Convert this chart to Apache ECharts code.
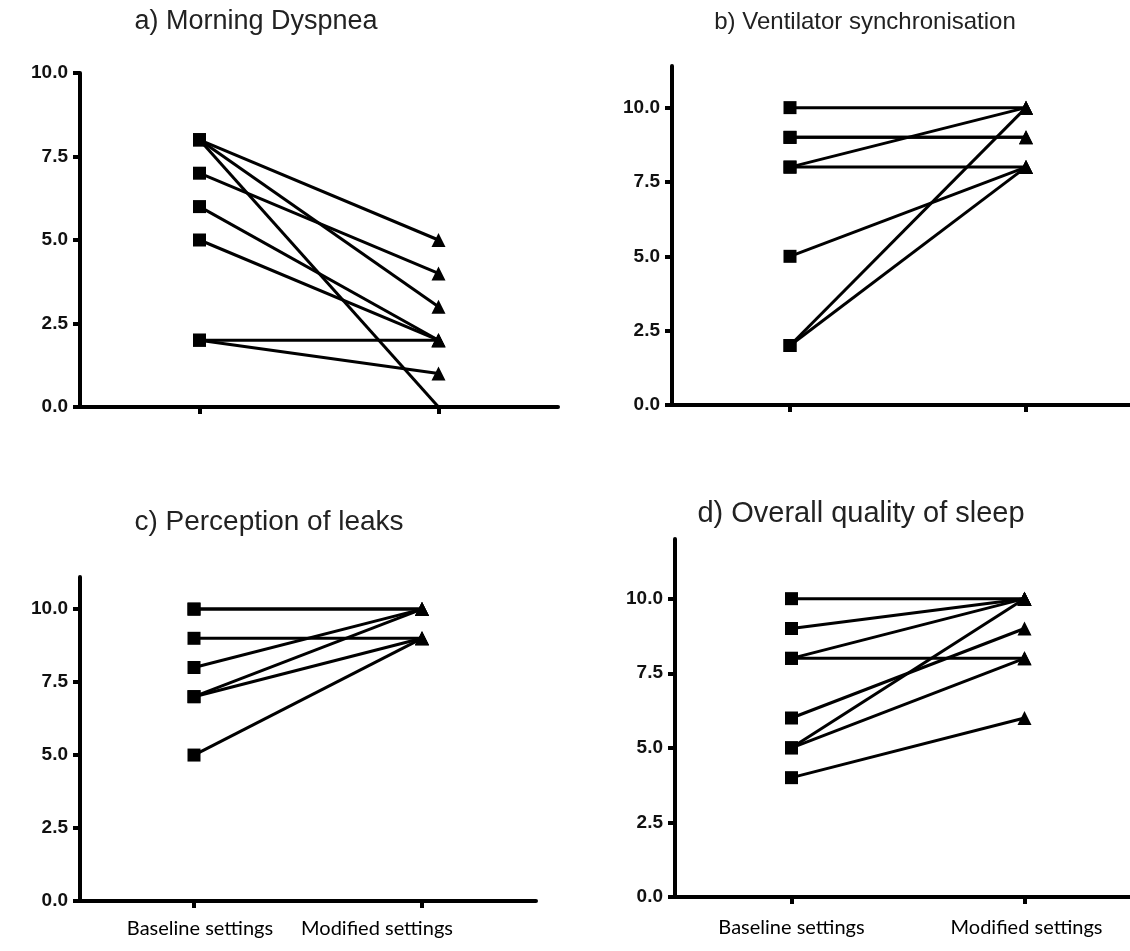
<!DOCTYPE html>
<html><head><meta charset="utf-8">
<script src="https://cdn.jsdelivr.net/npm/echarts@6/dist/echarts.min.js"></script>
<style>html,body{margin:0;padding:0;background:#fff}#c{width:1130px;height:951px}</style>
</head><body><div id="c"></div>
<script>
// ---- data ----
const categories = ['Baseline settings', 'Modified settings'];
const yTicks = [0, 2.5, 5, 7.5, 10];
const titles = ['a) Morning Dyspnea', 'b) Ventilator synchronisation', 'c) Perception of leaks', 'd) Overall quality of sleep'];
const aBaseline = [8, 8, 8, 7, 6, 5, 2, 2];
const aModified = [5, 3, 0, 4, 2, 2, 2, 1];
const bBaseline = [10, 9, 9, 8, 8, 5, 2, 2];
const bModified = [10, 9, 9, 10, 8, 8, 10, 8];
const cBaseline = [10, 10, 9, 8, 7, 7, 5];
const cModified = [10, 10, 9, 10, 10, 9, 9];
const dBaseline = [10, 9, 8, 8, 6, 5, 5, 4];
const dModified = [10, 10, 10, 8, 9, 10, 8, 6];
const yMax = [10, 11.4, 11.1, 12];

// ---- layout ----
const panels = [
  { base: aBaseline, mod: aModified, grid: { left: 80, top: 73, width: 478, height: 334 }, title: { left: 251, top: 3, size: 27 }, labels: false },
  { base: bBaseline, mod: bModified, grid: { left: 672, top: 66, width: 472, height: 339 }, title: { left: 860, top: 5, size: 24 }, labels: false },
  { base: cBaseline, mod: cModified, grid: { left: 80, top: 577, width: 456, height: 324 }, title: { left: 264, top: 503, size: 28 }, labels: true, pads: [[0, 0, 0, 12], [0, 90, 0, 0]], margin: 18 },
  { base: dBaseline, mod: dModified, grid: { left: 675, top: 539, width: 466, height: 358 }, title: { left: 856, top: 494, size: 29 }, labels: true, pads: [[0, 0, 0, 0], [0, 0, 0, 4]], margin: 21 }
];

const option = {
  animation: false,
  backgroundColor: '#fff',
  title: [], grid: [], xAxis: [], yAxis: [], series: []
};

panels.forEach((p, i) => {
  option.title.push({
    text: titles[i], left: p.title.left, top: p.title.top, textAlign: 'center',
    textStyle: { fontFamily: 'Liberation Sans', fontSize: p.title.size, fontWeight: 'normal', color: '#222' }
  });
  option.grid.push(Object.assign({ containLabel: false, outerBoundsMode: 'none' }, p.grid));
  option.xAxis.push({
    type: 'category', gridIndex: i, boundaryGap: true,
    data: categories.map((c, k) => p.labels ? { value: c, textStyle: { padding: p.pads[k] } } : c),
    axisLine: { show: true, lineStyle: { color: '#000', width: 4 } },
    axisTick: { show: true, alignWithLabel: true, length: 7, lineStyle: { color: '#000', width: 4 } },
    axisLabel: { show: p.labels, margin: p.margin || 18, fontFamily: 'Lato', fontSize: 20, color: '#000' },
    splitLine: { show: false }
  });
  option.yAxis.push({
    type: 'value', gridIndex: i, min: 0, max: yMax[i],
    axisLine: { show: true, lineStyle: { color: '#000', width: 4 } },
    axisTick: { show: true, length: 7, customValues: yTicks, lineStyle: { color: '#000', width: 4 } },
    axisLabel: { show: true, customValues: yTicks, margin: 12, formatter: v => v.toFixed(1),
      fontFamily: 'Liberation Sans', fontWeight: 'bold', fontSize: 19, color: '#111' },
    splitLine: { show: false }
  });
  p.base.forEach((b, k) => {
    option.series.push({
      type: 'line', xAxisIndex: i, yAxisIndex: i, silent: true,
      data: [b, p.mod[k]],
      symbol: (v, params) => params.dataIndex === 0 ? 'rect' : 'triangle',
      symbolSize: (v, params) => params.dataIndex === 0 ? 13 : (v <= 0 ? 0 : 14),
      showSymbol: true,
      lineStyle: { color: '#000', width: 3 },
      itemStyle: { color: '#000' },
      z: 3
    });
  });
});

const chart = echarts.init(document.getElementById('c'), null, { renderer: 'canvas' });
chart.setOption(option);
</script>
</body></html>
